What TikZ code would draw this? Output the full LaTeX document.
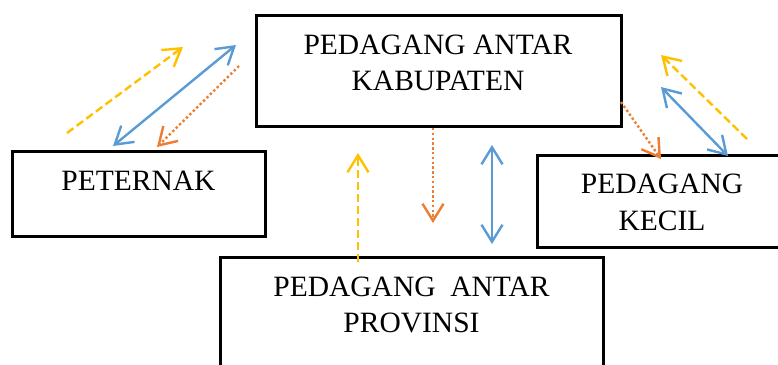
\documentclass[tikz,border=0pt]{standalone}
\usepackage{fontspec}
\setmainfont{Liberation Serif}
\usetikzlibrary{arrows.meta}
\definecolor{flowyellow}{HTML}{FFC000}
\definecolor{flowblue}{HTML}{5B9BD5}
\definecolor{floworange}{HTML}{ED7D31}
\begin{document}
\begin{tikzpicture}[x=1pt,y=-1pt,
  box/.style={draw=black,line width=3pt,rectangle,inner sep=0pt},
  lbl/.style={anchor=base,inner sep=0pt,font=\fontsize{29.5}{36}\selectfont},
  goods/.style={flowyellow,line width=2.4pt,dash pattern=on 8pt off 4pt,-{Straight Barb[length=17pt,width=21pt]}},
  money/.style={floworange,line width=2.4pt,dash pattern=on 2.4pt off 2.4pt,-{Straight Barb[length=17pt,width=21pt]}},
  info/.style={flowblue,line width=2.4pt,{Straight Barb[length=17pt,width=21pt]}-{Straight Barb[length=17pt,width=21pt]}}]
\useasboundingbox (0,0) rectangle (778,364);

% boxes
\node[box,minimum width=365pt,minimum height=111pt] (kab) at (438.5,70.5) {};
\node[box,minimum width=253pt,minimum height=85pt] (pet) at (138.5,193.5) {};
\node[box,minimum width=248pt,minimum height=92pt] (kec) at (661,201) {};
\node[box,minimum width=383pt,minimum height=118pt] (prov) at (411.5,316) {};

% labels
\node[lbl] (kabA) at (438,54) {PEDAGANG ANTAR};
\node[lbl] (kabB) at (438,90) {KABUPATEN};
\node[lbl] (petA) at (138.5,190) {PETERNAK};
\node[lbl] (kecA) at (662,193) {PEDAGANG};
\node[lbl] (kecB) at (662,230) {KECIL};
\node[lbl] (provA) at (411.5,296) {PEDAGANG\ \ ANTAR};
\node[lbl] (provB) at (411.5,332) {PROVINSI};

% arrow end points
\coordinate (l1a) at (67,133);  \coordinate (l1b) at (183,47);
\coordinate (l2a) at (113,146); \coordinate (l2b) at (236,45);
\coordinate (l3a) at (239,66);  \coordinate (l3b) at (157,147);
\coordinate (m1a) at (358,262); \coordinate (m1b) at (358,153);
\coordinate (m2a) at (433,128); \coordinate (m2b) at (433,223);
\coordinate (m3a) at (492,145); \coordinate (m3b) at (492,244);
\coordinate (r1a) at (621,102); \coordinate (r1b) at (661,159);
\coordinate (r2a) at (661,87);  \coordinate (r2b) at (728,156);
\coordinate (r3a) at (747,139); \coordinate (r3b) at (661,55);

% flows between peternak and kabupaten
\draw[goods] (l1a) -- (l1b);
\draw[info] (l2a) -- (l2b);
\draw[money] (l3a) -- (l3b);

% flows between kabupaten and provinsi
\draw[goods] (m1a) -- (m1b);
\draw[money] (m2a) -- (m2b);
\draw[info] (m3a) -- (m3b);

% flows between kabupaten and pedagang kecil
\draw[money] (r1a) -- (r1b);
\draw[info] (r2a) -- (r2b);
\draw[goods] (r3a) -- (r3b);
\end{tikzpicture}
\end{document}
